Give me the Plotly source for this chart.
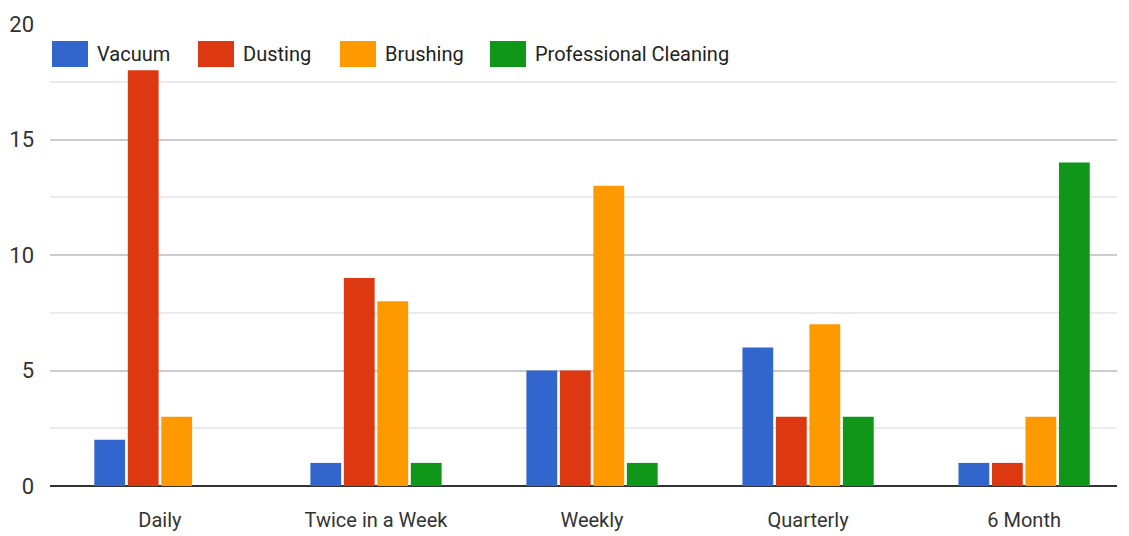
import plotly.graph_objects as go

categories = ["Daily", "Twice in a Week", "Weekly", "Quarterly", "6 Month"]
vacuum = [2, 1, 5, 6, 1]
dusting = [18, 9, 5, 3, 1]
brushing = [3, 8, 13, 7, 3]
professional = [0, 1, 1, 3, 14]

series_names = ["Vacuum", "Dusting", "Brushing", "Professional Cleaning"]
series_values = [vacuum, dusting, brushing, professional]
colors = ["#3366CC", "#DC3912", "#FF9900", "#109618"]

W, H = 1129, 536
FONT = "Roboto, Arial"

fig = go.Figure()
for name, vals, col in zip(series_names, series_values, colors):
    fig.add_trace(go.Bar(x=categories, y=vals, name=name, marker_color=col,
                         marker_line_width=0, showlegend=False))

# custom legend: wide swatches like the original
legend_x = [52, 198, 340, 490]  # swatch left edges, px
shapes = []
annotations = []
for name, col, lx in zip(series_names, colors, legend_x):
    shapes.append(dict(type="rect", xref="paper", yref="paper",
                       x0=(lx - 50) / 1067, x1=(lx + 36 - 50) / 1067,
                       y0=(486 - 67) / 462, y1=(486 - 41) / 462,
                       fillcolor=col, line_width=0, layer="above"))
    annotations.append(dict(text=name, xref="paper", yref="paper",
                            x=(lx + 43 - 50) / 1067, y=(486 - 54) / 462,
                            xanchor="left", yanchor="middle", showarrow=False,
                            font=dict(family=FONT, size=20, color="#222222")))

# page body has an 8px margin, so margins are trimmed to land the plot in place
fig.update_layout(
    width=W, height=H,
    margin=dict(l=42, r=20, t=16, b=58),
    paper_bgcolor="white", plot_bgcolor="white",
    barmode="group", bargap=0.38, bargroupgap=0.08,
    font=dict(family=FONT, size=20, color="#333333"),
    shapes=shapes, annotations=annotations,
)
fig.update_xaxes(showgrid=False, ticks="", ticklabelstandoff=20, automargin=False,
                 range=[-0.509, 4.43],
                 tickfont=dict(family=FONT, size=20, color="#333333"))
fig.update_yaxes(range=[0, 20], dtick=5, showgrid=True, gridcolor="#cccccc", gridwidth=2,
                 minor=dict(dtick=2.5, showgrid=True, gridcolor="#ebebeb", gridwidth=2),
                 zeroline=True, zerolinecolor="#333333", zerolinewidth=2,
                 ticklabelstandoff=15, automargin=False,
                 tickfont=dict(family=FONT, size=22, color="#333333"))

fig.write_html("out.html")
